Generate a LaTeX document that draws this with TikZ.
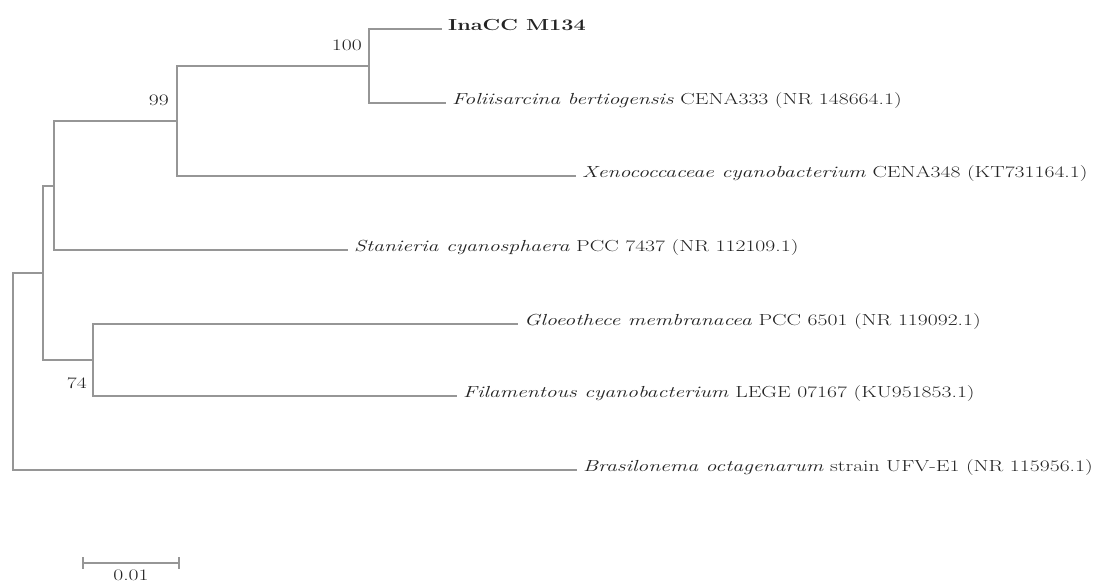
\documentclass[tikz,border=0pt]{standalone}
\usetikzlibrary{calc}
\definecolor{branch}{RGB}{150,150,150}
\definecolor{txt}{RGB}{35,35,35}
\newcommand{\hs}[1]{\scalebox{1.355}[1]{#1}}
\tikzset{
  br/.style={draw=branch, line width=1.5pt},
  leaf/.style={anchor=base west, inner xsep=6pt, inner ysep=0pt, text=txt, font=\fontsize{16}{19}\selectfont},
  boot/.style={inner sep=0pt, text=txt, font=\fontsize{16}{19}\selectfont},
  up/.style={yshift=1.5pt},
}
\begin{document}
\begin{tikzpicture}[x=1pt,y=-1pt]
\useasboundingbox (0,0) rectangle (1106,588);
% internal nodes
\coordinate (root) at (13,371);
\coordinate (nI) at (43,273);
\coordinate (nS) at (54,186);
\coordinate (n99) at (177,121);
\coordinate (n100) at (369,66);
\coordinate (n74) at (93,360);
% leaves
\node[leaf] (inacc) at (442,30.5) {\hs{\textbf{InaCC M134}}};
\node[leaf] (folii) at (446,104.5) {\hs{\textit{Foliisarcina bertiogensis} CENA333 (NR 148664.1)}};
\node[leaf] (xeno) at (576,177.5) {\hs{\textit{Xenococcaceae cyanobacterium} CENA348 (KT731164.1)}};
\node[leaf] (stan) at (348,251.5) {\hs{\textit{Stanieria cyanosphaera} PCC 7437 (NR 112109.1)}};
\node[leaf] (gloeo) at (518,325.5) {\hs{\textit{Gloeothece membranacea} PCC 6501 (NR 119092.1)}};
\node[leaf] (fil) at (457,397.5) {\hs{\textit{Filamentous cyanobacterium} LEGE 07167 (KU951853.1)}};
\node[leaf] (bras) at (577,471.5) {\hs{\textit{Brasilonema octagenarum} strain UFV-E1 (NR 115956.1)}};
% branches
\draw[br] (root) |- (nI);
\draw[br] (root) |- ([up]bras.base west);
\draw[br] (nI) |- (nS);
\draw[br] (nI) |- (n74);
\draw[br] (nS) |- (n99);
\draw[br] (nS) |- ([up]stan.base west);
\draw[br] (n99) |- (n100);
\draw[br] (n99) |- ([up]xeno.base west);
\draw[br] (n100) |- ([up]inacc.base west);
\draw[br] (n100) |- ([up]folii.base west);
\draw[br] (n74) |- ([up]gloeo.base west);
\draw[br] (n74) |- ([up]fil.base west);
% bootstrap values
\node[boot, anchor=base east] (b100) at (362,51) {\hs{100}};
\node[boot, anchor=base east] (b99) at (169,106) {\hs{99}};
\node[boot, anchor=base east] (b74) at (87,388) {\hs{74}};
% scale bar
\coordinate (sbL) at (83,563);
\coordinate (sbR) at (179,563);
\draw[br] (sbL) -- (sbR);
\draw[br] ($(sbL)+(0,-6)$) -- ($(sbL)+(0,6)$);
\draw[br] ($(sbR)+(0,-6)$) -- ($(sbR)+(0,6)$);
\node[boot, anchor=base] (sblabel) at ($(sbL)!0.5!(sbR)+(0,17)$) {\hs{0.01}};
\end{tikzpicture}
\end{document}
